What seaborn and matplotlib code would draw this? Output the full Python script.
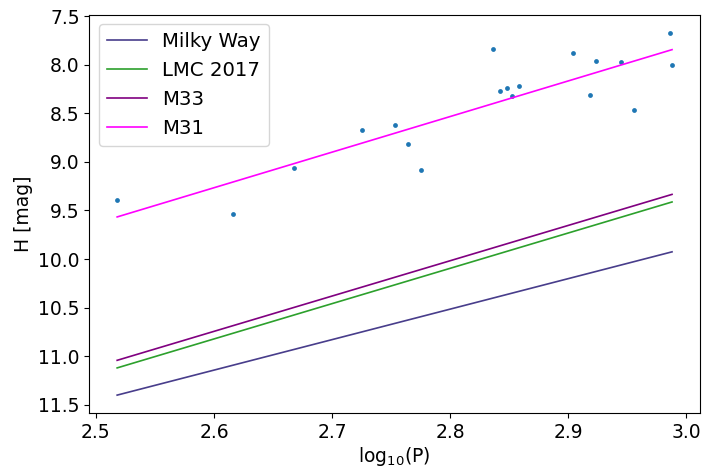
import numpy as np
import pandas as pd
import matplotlib
matplotlib.use("Agg")
import matplotlib.pyplot as plt
import seaborn as sns

# Cefeidy w M31 (pasmo H)
log_p = [2.518, 2.616, 2.668, 2.725, 2.753, 2.764, 2.775, 2.8365, 2.842, 2.8485,
         2.8525, 2.858, 2.9045, 2.9186, 2.924, 2.945, 2.9557, 2.986, 2.988]
h_mag = [9.39, 9.54, 9.068, 8.674, 8.626, 8.814, 9.084, 7.836, 8.27, 8.239,
         8.328, 8.222, 7.877, 8.311, 7.965, 7.976, 8.468, 7.671, 8.006]

# Relacje okres-jasnosc (koncowe punkty prostych)
line_x = [2.518, 2.988]
galaxies = ['Milky Way', 'LMC 2017', 'M33', 'M31']
line_y = {
    'Milky Way': [11.40, 9.926],
    'LMC 2017': [11.12, 9.413],
    'M33': [11.042, 9.335],
    'M31': [9.567, 7.846],
}
line_colors = ['darkslateblue', '#2ca02c', 'purple', 'magenta']

df_pts = pd.DataFrame({'logP': log_p, 'H': h_mag})
df_lines = pd.concat([
    pd.DataFrame({'logP': line_x, 'H': line_y[g], 'galaxy': g}) for g in galaxies
], ignore_index=True)

plt.rcParams['font.size'] = 13.5
fig, ax = plt.subplots(figsize=(7.04, 4.68), dpi=100)
fig.subplots_adjust(left=0.127, right=0.994, top=0.969, bottom=0.117)

sns.lineplot(data=df_lines, x='logP', y='H', hue='galaxy', hue_order=galaxies,
             palette=line_colors, linewidth=1.2, ax=ax)
sns.scatterplot(data=df_pts, x='logP', y='H', s=12, linewidth=0,
                color='#1f77b4', ax=ax, legend=False)

ax.invert_yaxis()
ax.set_xticks([2.5, 2.6, 2.7, 2.8, 2.9, 3.0])
ax.set_xlabel('log$_{10}$(P)', fontsize=13.5, labelpad=2)
ax.set_ylabel('H [mag]', fontsize=13.5)
ax.tick_params(labelsize=13.5)
ax.legend(loc='upper left', fontsize=14.2, title=None)

plt.savefig('out.png')
